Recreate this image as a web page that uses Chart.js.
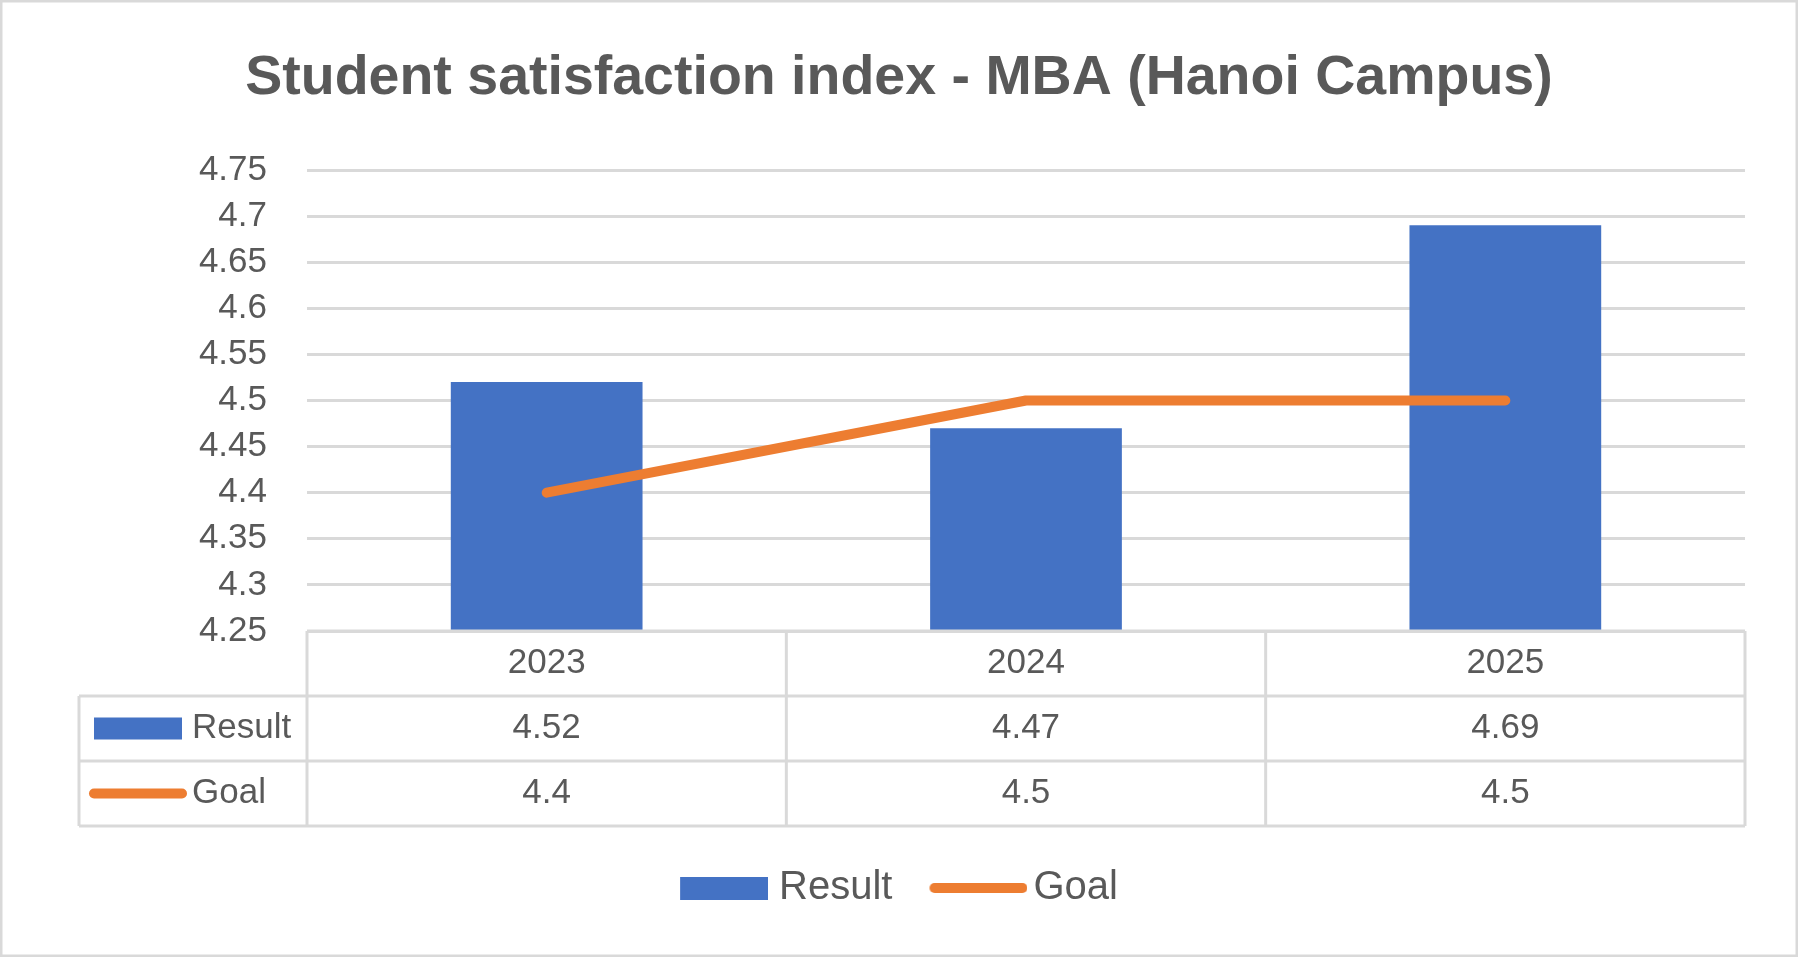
<!DOCTYPE html>
<html>
<head>
<meta charset="utf-8">
<script src="https://cdn.jsdelivr.net/npm/chart.js@4.4.1/dist/chart.umd.min.js"></script>
<style>
  html, body { margin: 0; padding: 0; background: #ffffff; }
  #wrap { width: 1798px; height: 957px; }
  canvas { display: block; }
</style>
</head>
<body>
<div id="wrap"><canvas id="c" width="1798" height="957"></canvas></div>
<script>
// ---- data ----
const chartTitle = 'Student satisfaction index - MBA (Hanoi Campus)';
const categories = ['2023', '2024', '2025'];
const resultLabel = 'Result';
const resultValues = [4.52, 4.47, 4.69];
const goalLabel = 'Goal';
const goalValues = [4.4, 4.5, 4.5];
const yTickValues = [4.25, 4.3, 4.35, 4.4, 4.45, 4.5, 4.55, 4.6, 4.65, 4.7, 4.75];
const yTickLabels = ['4.25', '4.3', '4.35', '4.4', '4.45', '4.5', '4.55', '4.6', '4.65', '4.7', '4.75'];

// ---- styles ----
const TEXT = '#595959';
const GRID = '#D9D9D9';
const BLUE = '#4472C4';
const ORANGE = '#ED7D31';
const FONT = "'Liberation Sans', Arial, sans-serif";
const ROW_H = 65;
const TABLE_LEFT = 79;
const KEY_W = 88;      // legend key length
const KEY_SLOT = 79;   // legend slot width so that key-to-text gap is small

// legend key images (centered on slot center by Chart.js)
function makeRectKey(color) {
  const half = KEY_W - KEY_SLOT / 2;
  const c = document.createElement('canvas');
  c.width = Math.ceil(2 * half); c.height = 23;
  const g = c.getContext('2d');
  g.fillStyle = color;
  g.fillRect(c.width / 2 - KEY_SLOT / 2, 0, KEY_W, 23);
  return c;
}
function makeLineKey(color) {
  const half = KEY_W + 5 - KEY_SLOT / 2;
  const c = document.createElement('canvas');
  c.width = Math.ceil(2 * half); c.height = 12;
  const g = c.getContext('2d');
  const x0 = c.width / 2 - KEY_SLOT / 2;
  g.strokeStyle = color; g.lineWidth = 10; g.lineCap = 'round';
  g.beginPath(); g.moveTo(x0, 6); g.lineTo(x0 + KEY_W, 6); g.stroke();
  return c;
}
const legendKeys = [makeRectKey(BLUE), makeLineKey(ORANGE)];

Chart.defaults.font.family = FONT;
Chart.defaults.color = TEXT;

const dataTablePlugin = {
  id: 'dataTable',
  afterDraw(chart) {
    const ctx = chart.ctx;
    const area = chart.chartArea;
    const n = categories.length;
    const top = area.bottom;
    const r1 = top + ROW_H, r2 = top + 2 * ROW_H, r3 = top + 3 * ROW_H;
    ctx.save();
    ctx.strokeStyle = GRID;
    ctx.lineWidth = 3;
    ctx.beginPath();
    ctx.moveTo(area.left, top); ctx.lineTo(area.right, top);
    [r1, r2, r3].forEach(y => { ctx.moveTo(TABLE_LEFT, y); ctx.lineTo(area.right, y); });
    ctx.moveTo(TABLE_LEFT, r1); ctx.lineTo(TABLE_LEFT, r3);
    for (let i = 0; i <= n; i++) {
      const xb = area.left + i * (area.right - area.left) / n;
      ctx.moveTo(xb, top); ctx.lineTo(xb, r3);
    }
    ctx.stroke();

    // legend keys in table
    const c1 = (r1 + r2) / 2, c2 = (r2 + r3) / 2;
    ctx.fillStyle = BLUE;
    ctx.fillRect(TABLE_LEFT + 15, c1 - 11, 88, 22);
    ctx.strokeStyle = ORANGE;
    ctx.lineWidth = 10;
    ctx.lineCap = 'round';
    ctx.beginPath();
    ctx.moveTo(TABLE_LEFT + 15, c2); ctx.lineTo(TABLE_LEFT + 103, c2);
    ctx.stroke();

    ctx.fillStyle = TEXT;
    ctx.font = '35px ' + FONT;
    ctx.textAlign = 'left';
    ctx.textBaseline = 'middle';
    ctx.fillText(chart.data.datasets[0].label, TABLE_LEFT + 113, c1);
    ctx.fillText(chart.data.datasets[1].label, TABLE_LEFT + 113, c2);
    ctx.restore();
  }
};

const borderPlugin = {
  id: 'outerBorder',
  afterDraw(chart) {
    const ctx = chart.ctx;
    ctx.save();
    ctx.strokeStyle = GRID;
    ctx.lineWidth = 2.5;
    ctx.strokeRect(1.25, 1.25, chart.width - 2.5, chart.height - 2.5);
    ctx.restore();
  }
};

new Chart(document.getElementById('c'), {
  data: {
    labels: categories,
    datasets: [
      {
        type: 'bar',
        label: resultLabel,
        data: resultValues,
        backgroundColor: BLUE,
        borderWidth: 0,
        barPercentage: 0.4,
        categoryPercentage: 1.0,
        order: 2
      },
      {
        type: 'line',
        label: goalLabel,
        data: goalValues,
        borderColor: ORANGE,
        backgroundColor: ORANGE,
        borderWidth: 10,
        borderCapStyle: 'round',
        borderJoinStyle: 'round',
        pointRadius: 0,
        tension: 0,
        fill: false,
        order: 1
      }
    ]
  },
  options: {
    responsive: false,
    animation: false,
    devicePixelRatio: 1,
    layout: { padding: { left: 0, right: 0, top: 0, bottom: 39 } },
    plugins: {
      title: {
        display: true,
        text: chartTitle,
        color: TEXT,
        font: { family: FONT, size: 55.5, weight: 'bold', lineHeight: 1.2 },
        padding: { top: 45, bottom: 58.4 }
      },
      legend: {
        display: true,
        position: 'bottom',
        labels: {
          usePointStyle: true,
          pointStyleWidth: KEY_SLOT,
          boxHeight: 23,
          padding: 42,
          color: TEXT,
          font: { family: FONT, size: 40 },
          sort: (a, b) => a.datasetIndex - b.datasetIndex,
          generateLabels: (chart) => chart.data.datasets.map((ds, i) => ({
            text: ds.label,
            datasetIndex: i,
            fillStyle: ds.type === 'line' ? ds.borderColor : ds.backgroundColor,
            strokeStyle: ds.type === 'line' ? ds.borderColor : ds.backgroundColor,
            lineWidth: 0,
            pointStyle: legendKeys[i],
            fontColor: TEXT,
            hidden: false
          }))
        }
      },
      tooltip: { enabled: false }
    },
    scales: {
      x: {
        type: 'category',
        offset: true,
        grid: { display: false, drawTicks: false },
        border: { display: false },
        ticks: {
          padding: 0,
          autoSkip: false,
          maxRotation: 0,
          color: TEXT,
          font: { family: FONT, size: 35, lineHeight: ROW_H + 'px' },
          callback: (val, i) => [categories[i], String(resultValues[i]), String(goalValues[i])]
        },
        afterFit(s) { s.height = 3 * ROW_H; }
      },
      y: {
        type: 'linear',
        position: 'left',
        min: 4.25,
        max: 4.75,
        grid: { color: GRID, lineWidth: 3, drawTicks: false },
        border: { display: false },
        ticks: {
          padding: 40,
          color: TEXT,
          font: { family: FONT, size: 35 },
          callback: (v, i) => yTickLabels[i]
        },
        afterBuildTicks(s) { s.ticks = yTickValues.map(v => ({ value: v })); },
        afterFit(s) { s.width = 307; }
      },
      yR: {
        type: 'linear',
        position: 'right',
        display: true,
        grid: { display: false, drawTicks: false },
        border: { display: false },
        ticks: { display: false },
        afterFit(s) { s.width = 53; }
      }
    }
  },
  plugins: [dataTablePlugin, borderPlugin]
});
</script>
</body>
</html>
